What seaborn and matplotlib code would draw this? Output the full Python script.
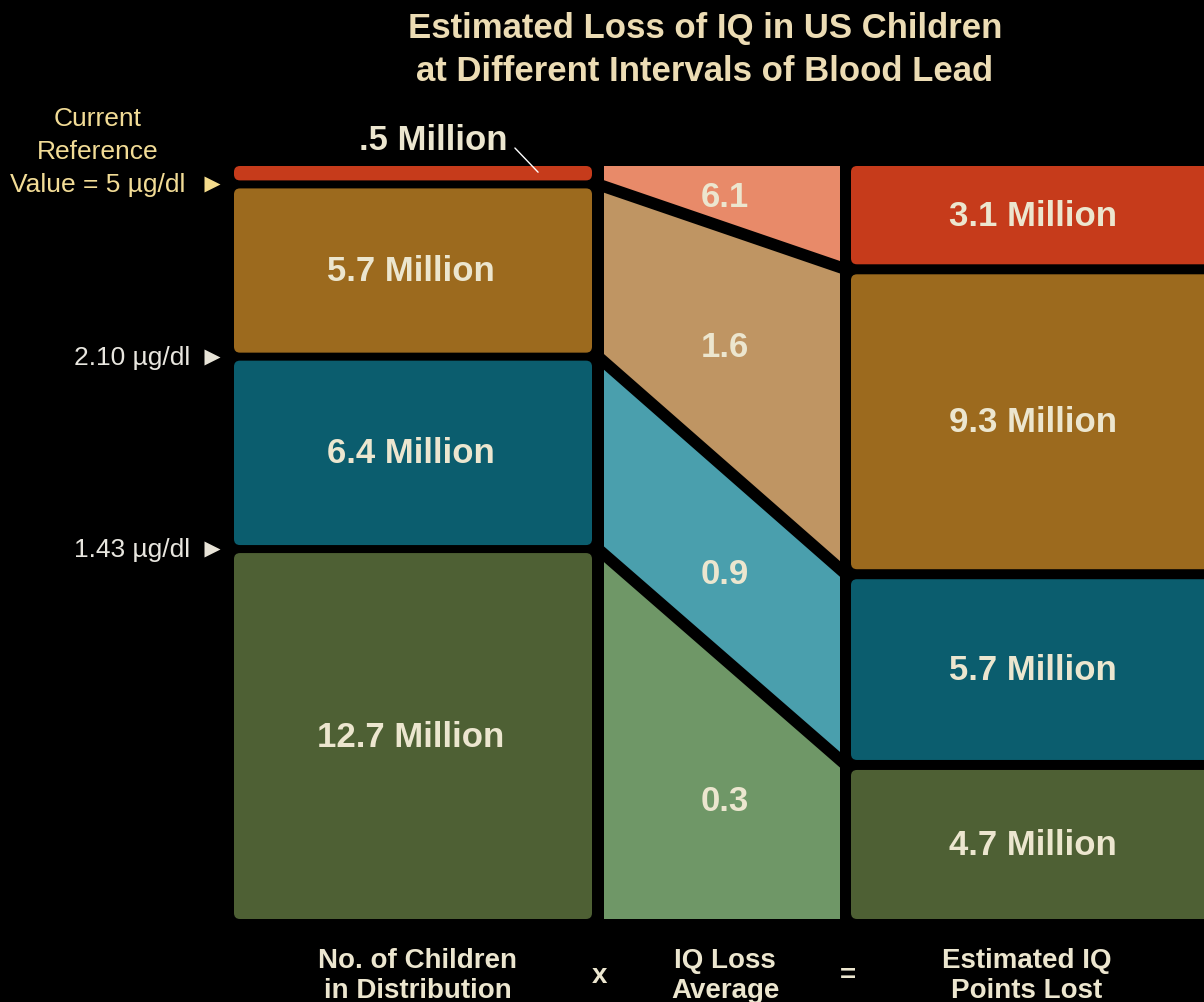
import numpy as np
import pandas as pd
import seaborn as sns
import matplotlib.pyplot as plt
from matplotlib.patches import FancyBboxPatch, Polygon
from matplotlib import font_manager

# data
children = [0.5, 5.7, 6.4, 12.7]          # millions of children per blood-lead interval
iq_loss = [6.1, 1.6, 0.9, 0.3]            # average IQ points lost
points_lost = [3.1, 9.3, 5.7, 4.7]        # millions of IQ points lost
children_labels = ['.5 Million', '5.7 Million', '6.4 Million', '12.7 Million']
iq_labels = ['6.1', '1.6', '0.9', '0.3']
points_labels = ['3.1 Million', '9.3 Million', '5.7 Million', '4.7 Million']
cut_labels = ['Current\nReference\nValue = 5 µg/dl', '2.10 µg/dl', '1.43 µg/dl']
col_titles = ['No. of Children\nin Distribution', 'IQ Loss\nAverage', 'Estimated IQ\nPoints Lost']

dark_cols = ['#c63b1b', '#9c6a1e', '#0b5d6e', '#4e6034']
light_cols = ['#e88a69', '#bf9563', '#4a9fad', '#6f9767']
txt = '#ece6cf'

sns.set_theme(style='dark', rc={'axes.facecolor': 'black', 'figure.facecolor': 'black'})
names = {f.name for f in font_manager.fontManager.ttflist}
narrow = 'Liberation Sans Narrow' if 'Liberation Sans Narrow' in names else 'Liberation Sans'
plt.rcParams['font.family'] = ['Liberation Sans', 'DejaVu Sans']

fig = plt.figure(figsize=(12.04, 10.03), dpi=100)
ax = fig.add_axes([0, 0, 1, 1])
ax.set_xlim(0, 1204)
ax.set_ylim(1003, 0)
ax.axis('off')

TOP, BOTTOM = 167, 920
LX = (234, 592)
MX = (604, 840)
RX = (851, 1215)

def stack(vals, gap):
    scale = (BOTTOM - TOP - gap * (len(vals) - 1)) / sum(vals)
    tops, bots = [], []
    y = TOP
    for v in vals:
        tops.append(y)
        y += v * scale
        bots.append(y)
        y += gap
    return tops, bots

lt, lb = stack(children, 8)
rt, rb = stack(points_lost, 10)

def block(x, top, bot, c):
    ax.add_patch(FancyBboxPatch((x[0], top), x[1] - x[0], bot - top,
                                boxstyle='round,pad=0,rounding_size=6', fc=c, ec='none'))

# left column
for i in range(4):
    block(LX, lt[i], lb[i], dark_cols[i])
    if i > 0:
        ax.text(sum(LX) / 2 - 2, (lt[i] + lb[i]) / 2, children_labels[i], color=txt,
                fontsize=25, fontweight='bold', ha='center', va='center')
ax.text(433, 140, children_labels[0], color=txt, fontsize=25, fontweight='bold',
        ha='center', va='center')
ax.annotate('', xy=(540, (lt[0] + lb[0]) / 2 + 1), xytext=(513, 147),
            arrowprops=dict(arrowstyle='-', color='white', lw=1))

# right column
for i in range(4):
    block(RX, rt[i], rb[i], dark_cols[i])
    ax.text(1033, (rt[i] + rb[i]) / 2, points_labels[i], color=txt,
            fontsize=25, fontweight='bold', ha='center', va='center')

# middle column: connecting shapes
lsep = [TOP] + [(lb[i] + lt[i + 1]) / 2 for i in range(3)] + [BOTTOM]
rsep = [TOP] + [(rb[i] + rt[i + 1]) / 2 for i in range(3)] + [BOTTOM]
for i in range(4):
    pts = [(MX[0], lsep[i]), (MX[1], rsep[i]), (MX[1], rsep[i + 1]), (MX[0], lsep[i + 1])]
    ax.add_patch(Polygon(pts, closed=True, fc=light_cols[i], ec='none'))
    cy = np.mean([p[1] for p in pts])
    ax.text(725, cy + (12 if i > 1 else 0), iq_labels[i], color=txt, fontsize=25,
            fontweight='bold', ha='center', va='center')
for i in range(1, 4):
    ax.plot([MX[0] - 6, MX[1] + 6], [lsep[i], rsep[i]], color='black', lw=8.5,
            solid_capstyle='butt')

# interval markers
ax.text(98, 152, cut_labels[0], color='#f2dc96', fontsize=19, ha='center', va='center',
        linespacing=1.45)
ax.plot(212, lsep[1], marker='>', ms=12, color='#f5dc8c', mec='none')
for i in range(1, 3):
    ax.text(190, lsep[i + 1], cut_labels[i], color='#e8e6df', fontsize=19,
            ha='right', va='center')
    ax.plot(212, lsep[i + 1], marker='>', ms=12, color='#e8e4d8', mec='none')

# title
ax.text(705, 50, 'Estimated Loss of IQ in US Children\nat Different Intervals of Blood Lead',
        color='#ecdcb4', fontsize=25, fontweight='bold', ha='center', va='center',
        linespacing=1.35)

# bottom captions
for x, t in zip([418, 725, 1027], col_titles):
    ax.text(x, 976, t, color=txt, fontsize=20, fontweight='bold', family=narrow,
            ha='center', va='center', linespacing=1.2)
ax.text(600, 976, 'x', color=txt, fontsize=20, fontweight='bold', ha='center', va='center')
ax.text(848, 976, '=', color=txt, fontsize=20, fontweight='bold', ha='center', va='center')

fig.savefig('out.png', dpi=100, facecolor='black')
